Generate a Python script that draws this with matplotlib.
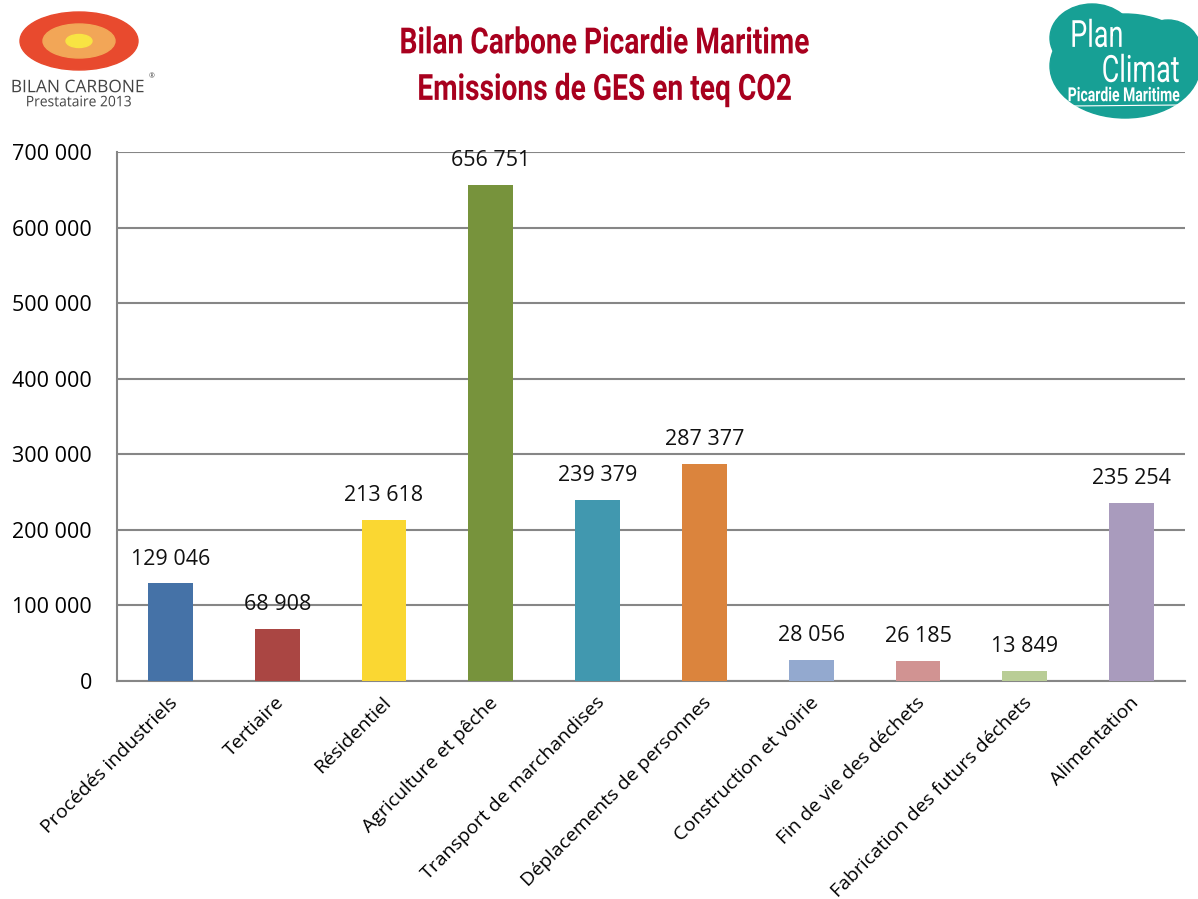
import matplotlib
matplotlib.use("Agg")
import matplotlib.pyplot as plt
from matplotlib.patches import Ellipse, PathPatch
from matplotlib.textpath import TextPath
from matplotlib.font_manager import FontProperties
from matplotlib.transforms import Affine2D, ScaledTranslation
from matplotlib.ticker import FuncFormatter

secteurs = [
    "Procédés industriels", "Tertiaire", "Résidentiel", "Agriculture et pêche",
    "Transport de marchandises", "Déplacements de personnes", "Construction et voirie",
    "Fin de vie des déchets", "Fabrication des futurs déchets", "Alimentation",
]
emissions = [129046, 68908, 213618, 656751, 239379, 287377, 28056, 26185, 13849, 235254]
couleurs = [
    "#4572A7", "#AA4643", "#FAD732", "#77933C", "#4198AF",
    "#DB843D", "#93A9CF", "#D19392", "#B9CD96", "#A99BBD",
]
y_ticks = [0, 100000, 200000, 300000, 400000, 500000, 600000, 700000]

W, H = 1198, 899


def fmt_fr(v, pos=None):
    return f"{int(v):,}".replace(",", " ")


def px(xp, yp):
    return xp / W, 1 - yp / H


def texte_etroit(fig, xp, yp, s, size, color, weight="normal", sx=0.8,
                 family="Roboto", zorder=3):
    # texte compressé horizontalement, centré sur (xp, yp) en pixels
    tp = TextPath((0, 0), s, size=size, prop=FontProperties(family=family, weight=weight))
    bb = tp.get_extents()
    cx, cy = (bb.x0 + bb.x1) / 2, (bb.y0 + bb.y1) / 2
    x_in, y_in = xp / fig.dpi, (H - yp) / fig.dpi
    tr = (Affine2D().translate(-cx, -cy).scale(sx / 72, 1 / 72).translate(x_in, y_in)
          + fig.dpi_scale_trans)
    fig.patches.append(PathPatch(tp, transform=tr, facecolor=color, edgecolor="none",
                                 zorder=zorder))


plt.rcParams["font.family"] = ["Open Sans", "DejaVu Sans"]

fig = plt.figure(figsize=(W / 100, H / 100), dpi=100)
ax = fig.add_axes([117 / W, 1 - 681 / H, (1185 - 117) / W, (681 - 152) / H])

x = range(len(secteurs))
ax.bar(x, emissions, width=0.42, color=couleurs, zorder=3)
for i, v in enumerate(emissions):
    ax.annotate(fmt_fr(v), (i, v), xytext=(0, 10), textcoords="offset points",
                ha="center", va="bottom", fontsize=15.5, color="#111111")

ax.set_xlim(-0.5, len(secteurs) - 0.5)
ax.set_ylim(0, 700000)
ax.set_yticks(y_ticks)
ax.yaxis.set_major_formatter(FuncFormatter(fmt_fr))
ax.yaxis.grid(True, color="#868686", linewidth=1.5, zorder=0)
ax.set_xticks(list(x))
ax.set_xticklabels(secteurs, rotation=45, ha="right", rotation_mode="anchor", fontsize=14)
ax.tick_params(axis="both", length=0)
ax.tick_params(axis="y", pad=18, labelsize=15.5)
ax.tick_params(axis="x", pad=9)
decal = ScaledTranslation(-0.02, 0, fig.dpi_scale_trans)
for lab in ax.get_xticklabels():
    lab.set_transform(lab.get_transform() + decal)
for s in ["top", "right"]:
    ax.spines[s].set_visible(False)
for s in ["left", "bottom"]:
    ax.spines[s].set_color("#868686")
    ax.spines[s].set_linewidth(1.5)

# titre
for yp, ligne in [(40, "Bilan Carbone Picardie Maritime"), (90, "Emissions de GES en teq CO2")]:
    texte_etroit(fig, 605, yp, ligne, 26, "#A8001E", weight="bold", sx=0.78)

# logo Bilan Carbone
for w, h, c in [(118, 58, "#E84A2E"), (72, 34, "#F2A657"), (26, 13, "#F8E443")]:
    fig.patches.append(Ellipse(px(79, 41), w / W, h / H, transform=fig.transFigure,
                               color=c, zorder=1))
texte_etroit(fig, 78, 86, "BILAN CARBONE", 12.5, "#444444", sx=1.0, family="Open Sans")
fig.text(*px(152, 77), "®", ha="center", va="center", fontsize=5, color="#444444")
texte_etroit(fig, 79, 101, "Prestataire 2013", 10.5, "#444444", sx=0.95, family="Open Sans")

# logo Plan Climat
teal = "#17A095"
for cx, cy, w, h in [(1125, 66, 150, 104), (1092, 38, 84, 68), (1168, 52, 66, 64)]:
    fig.patches.append(Ellipse(px(cx, cy), w / W, h / H, transform=fig.transFigure,
                               color=teal, zorder=1))
texte_etroit(fig, 1097, 33, "Plan", 27, "white", sx=0.72)
texte_etroit(fig, 1141, 68, "Climat", 27, "white", sx=0.72)
texte_etroit(fig, 1124, 94, "Picardie Maritime", 14, "white", weight="bold", sx=0.72)
fig.add_artist(plt.Line2D([1070 / W, 1180 / W], [1 - 106 / H, 1 - 105 / H],
                          color="white", linewidth=0.8, zorder=3))

fig.savefig("out.png", dpi=100)
